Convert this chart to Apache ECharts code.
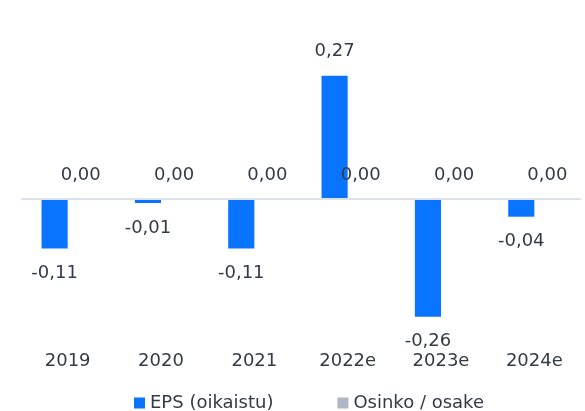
<!DOCTYPE html>
<html><head><meta charset="utf-8">
<script src="https://cdn.jsdelivr.net/npm/echarts@6/dist/echarts.min.js"></script>
<style>html,body{margin:0;padding:0;background:#fff}#c{width:585px;height:411px}</style>
</head><body><div id="c"></div>
<script>
const categories = ['2019','2020','2021','2022e','2023e','2024e'];
const epsValues = [-0.11, -0.01, -0.11, 0.27, -0.26, -0.04];
const dividendValues = [0, 0, 0, 0, 0, 0];
const seriesNames = ['EPS (oikaistu)', 'Osinko / osake'];

const fmt = v => (v < 0 ? '-' : '') + Math.abs(v).toFixed(2).replace('.', ',');
const textColor = '#343b47';
const font = '"DejaVu Sans", sans-serif';
const fs = 18;

const chart = echarts.init(document.getElementById('c'));
chart.setOption({
  animation: false,
  textStyle: {fontFamily: font},
  grid: {left: 21, right: 4, top: 62, bottom: 76},
  legend: {
    top: 389, left: 129, itemGap: 64, itemWidth: 11, itemHeight: 11,
    icon: 'rect',
    textStyle: {color: textColor, fontSize: fs, fontFamily: font},
    data: seriesNames
  },
  xAxis: {
    type: 'category', data: categories,
    axisLine: {show: false}, axisTick: {show: false},
    axisLabel: {color: textColor, fontSize: fs, fontFamily: font, margin: 17}
  },
  yAxis: {
    type: 'value', min: -0.3, max: 0.3, show: false,
    splitLine: {show: false}
  },
  series: [
    {
      name: seriesNames[0], type: 'bar',
      data: epsValues.map(v => ({value: v, label: {position: v < 0 ? 'bottom' : 'top', distance: v < 0 ? 16 : 15}})),
      barGap: 0, barCategoryGap: '44%',
      itemStyle: {color: '#0874ff'},
      label: {
        show: true, color: textColor, fontSize: fs, fontFamily: font,
        formatter: p => fmt(p.value)
      },
      markLine: {
        silent: true, symbol: 'none', label: {show: false},
        lineStyle: {color: '#dde2ea', width: 2, type: 'solid'},
        data: [{yAxis: 0}]
      }
    },
    {
      name: seriesNames[1], type: 'bar', data: dividendValues,
      itemStyle: {color: '#b0b6c6'},
      label: {
        show: true, position: 'top', distance: 14, color: textColor, fontSize: fs, fontFamily: font,
        formatter: p => fmt(p.value)
      }
    }
  ]
});
</script></body></html>
